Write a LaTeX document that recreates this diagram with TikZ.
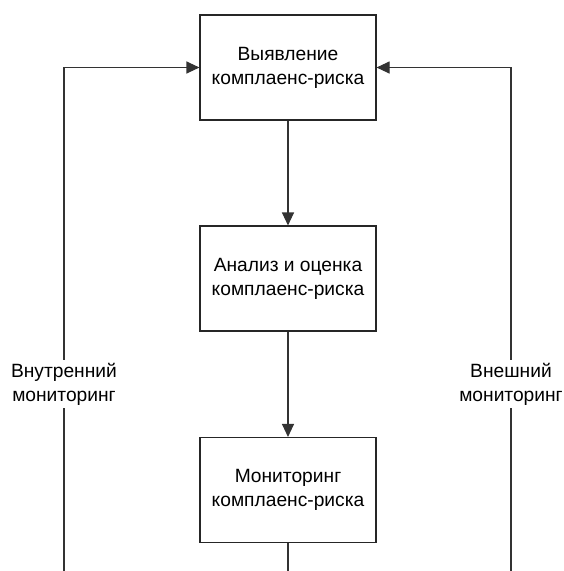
\documentclass[tikz,border=0pt]{standalone}
\usepackage{fontspec}
\setmainfont{Liberation Sans}
\usetikzlibrary{arrows.meta}
\begin{document}
\begin{tikzpicture}[x=1pt,y=1pt,
  box/.style={draw=black!85,line width=1.1pt,minimum width=176pt,minimum height=105pt,
    align=center,font=\fontsize{19.2}{24}\selectfont,inner sep=0pt},
  lbl/.style={fill=white,align=center,font=\fontsize{19.2}{24}\selectfont,inner sep=3pt},
  conn/.style={draw=black!80,line width=1.1pt},
  arr/.style={conn,-{Triangle[length=13pt,width=12pt]}}]
\useasboundingbox (0,0) rectangle (564,-571);
\node[box] (b1) at (288,-67.5) {Выявление\\комплаенс-риска};
\node[box] (b2) at (288,-278.5) {Анализ и оценка\\комплаенс-риска};
\node[box] (b3) at (288,-490) {Мониторинг\\комплаенс-риска};
\coordinate (lb) at (64,-571);
\coordinate (rb) at (511,-571);
\coordinate (mb) at (288,-571);
\draw[arr] (b1) -- (b2);
\draw[arr] (b2) -- (b3);
\draw[conn] (b3) -- (mb);
\draw[arr] (lb) |- (b1.west);
\draw[arr] (rb) |- (b1.east);
\node[lbl] (li) at (64,-384) {Внутренний\\мониторинг};
\node[lbl] (re) at (511,-384) {Внешний\\мониторинг};
\end{tikzpicture}
\end{document}
